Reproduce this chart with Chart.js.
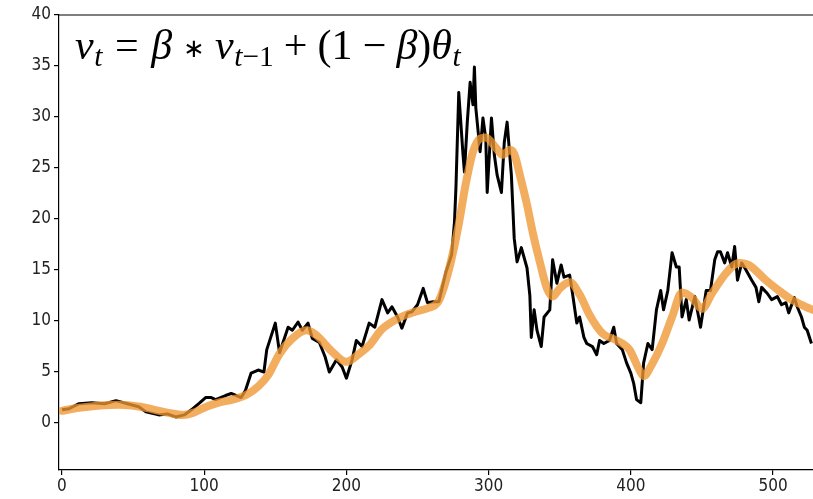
<!DOCTYPE html>
<html>
<head>
<meta charset="utf-8">
<script src="https://cdn.jsdelivr.net/npm/chart.js@4/dist/chart.umd.min.js"></script>
<style>
  html, body { margin: 0; padding: 0; background: #fff; }
  #wrap { position: relative; width: 813px; height: 499px; overflow: hidden; }
  #formula {
    position: absolute; left: 75px; top: 24px;
    font-family: 'Liberation Serif', 'Times New Roman', serif;
    font-size: 42px; line-height: 42px; color: #000; white-space: nowrap;
  }
  #formula i { font-style: italic; }
  #formula .s { font-size: 0.7em; position: relative; top: 0.24em; margin-left: 0.02em; }
  #formula .rel { margin: 0 0.3em; }
  #formula .bin { margin: 0 0.24em; }
  #formula .ast { font-size: 0.62em; margin: 0 0.4em; position: relative; top: -0.08em; }
</style>
</head>
<body>
<div id="wrap">
  <canvas id="c" width="813" height="499"></canvas>
  <div id="formula"><i>v</i><span class="s"><i>t</i></span><span class="rel">=</span><i>β</i><span class="ast">∗</span><i>v</i><span class="s"><i>t</i>−1</span><span class="bin">+</span>(1<span class="bin">−</span><i>β</i>)<i>θ</i><span class="s"><i>t</i></span></div>
</div>
<script>
// Raw series θ_t (black)
const rawX = [0,5,12,21,30,38,46,54,59,68,
  74,80,86,91,97,101,105,108,115,119,
  126,129,133,138,142,144,150,153,159,162,
  166,169,173,176,181,185,188,193,197,200,
  204,207,211,216,220,225,229,232,236,239,
  243,246,250,254,257,261,265,270,274,276,
  277,279,282,283,285,287,289,290,291,294,
  296,298,299,302,304,306,309,311,313,316,
  318,320,323,327,329,330,332,334,337,339,
  343,345,348,351,353,357,359,362,364,367,
  369,373,376,378,381,385,388,390,394,397,
  400,402,404,407,409,412,415,418,421,423,
  426,429,432,434,436,439,441,445,449,453,
  456,459,461,463,466,468,471,473,475,478,
  481,485,488,490,492,496,499,503,506,509,
  511,515,517,520,522,524,527];
const rawY = [1.3,1.4,1.9,2.0,1.9,2.2,1.9,1.6,1.1,0.8,
  0.9,0.6,0.8,1.3,2.0,2.5,2.5,2.3,2.7,2.9,
  2.5,3.2,4.9,5.2,5.0,7.2,9.8,6.9,9.4,9.1,
  9.9,9.1,9.8,8.3,7.9,6.5,5.0,6.2,5.5,4.4,
  6.2,8.1,7.5,9.8,9.4,12.1,10.8,11.4,10.4,9.3,
  10.8,10.9,11.6,13.2,11.8,11.9,11.9,14.8,16.5,19.7,
  23.0,32.4,26.3,24.6,29.5,33.4,31.2,34.9,30.9,26.6,
  29.9,27.9,22.6,29.9,26.3,24.3,22.6,27.5,29.5,24.3,
  18.1,15.8,17.2,15.2,12.5,8.4,11.1,9.1,7.5,10.4,
  11.1,16.0,13.7,15.5,14.3,14.5,12.7,9.8,10.4,8.4,
  7.8,7.5,6.7,8.1,7.8,8.1,9.4,7.8,7.2,5.9,
  4.9,3.9,2.3,2.0,5.9,7.8,7.2,11.1,13.0,11.1,
  13.0,16.7,15.3,15.3,10.4,12.1,10.1,12.4,9.4,13.0,
  13.0,16.0,16.8,16.8,15.7,16.7,15.3,17.3,14.0,15.7,
  15.0,14.0,13.3,11.9,13.3,12.7,12.1,12.4,11.6,11.8,
  10.8,12.3,11.4,10.4,9.4,9.1,7.8];

// Smoothed series v_t (orange)
const emaX = [0,12,25,40,55,65,75,85,92,100,
  110,120,130,138,145,153,162,172,179,190,
  200,209,216,225,237,248,258,265,272,279,
  284,289,294,298,305,310,315,318,322,327,
  331,336,341,345,350,357,364,371,380,390,
  399,406,409,415,422,429,436,443,450,457,
  467,476,483,495,504,513,523,528];
const emaY = [1.2,1.5,1.7,1.8,1.6,1.3,1.0,0.8,1.0,1.5,
  2.0,2.3,2.8,3.6,4.7,6.8,8.3,9.1,8.6,7.0,
  6.0,6.8,7.6,9.2,10.3,10.9,11.3,12.0,15.0,19.5,
  23.5,26.6,27.9,28.0,27.0,26.3,26.8,26.4,24.3,21.4,
  18.7,15.8,13.2,12.4,13.2,13.8,12.6,10.6,8.8,8.1,
  7.2,5.2,4.6,5.8,7.8,10.4,12.8,12.3,11.2,12.7,
  14.7,15.7,15.5,14.0,13.0,12.1,11.4,11.1];

// Axis ranges and tick labels
const xRange = [-2.1, 528.1];
const yRange = [-4.6, 40];
const xTicks = [0, 100, 200, 300, 400, 500];
const yTicks = [0, 5, 10, 15, 20, 25, 30, 35, 40];

const toPoints = (xs, ys) => xs.map((x, i) => ({ x: x, y: ys[i] }));

const tickFont = { family: "'DejaVu Sans Condensed', 'DejaVu Sans', sans-serif", size: 17 };

// top spine of the plot frame
const topFrame = {
  id: 'topFrame',
  afterDraw(chart) {
    const { ctx, chartArea } = chart;
    ctx.save();
    ctx.strokeStyle = '#000';
    ctx.lineWidth = 1.2;
    ctx.beginPath();
    ctx.moveTo(chartArea.left, chartArea.top);
    ctx.lineTo(chartArea.right, chartArea.top);
    ctx.stroke();
    ctx.restore();
  }
};

new Chart(document.getElementById('c'), {
  type: 'line',
  data: {
    datasets: [
      {
        label: 'v_t',
        data: toPoints(emaX, emaY),
        borderColor: 'rgba(238, 150, 50, 0.78)',
        borderWidth: 8,
        pointRadius: 0,
        cubicInterpolationMode: 'monotone',
        borderCapStyle: 'round',
        borderJoinStyle: 'round',
        fill: false,
        order: 0
      },
      {
        label: 'θ_t',
        data: toPoints(rawX, rawY),
        borderColor: '#000',
        borderWidth: 3,
        pointRadius: 0,
        tension: 0,
        borderJoinStyle: 'round',
        fill: false,
        order: 1
      }
    ]
  },
  options: {
    responsive: false,
    animation: false,
    devicePixelRatio: 1,
    layout: { padding: { top: 15, right: 0, left: 0, bottom: 0 } },
    plugins: { legend: { display: false }, tooltip: { enabled: false } },
    scales: {
      x: {
        type: 'linear',
        min: xRange[0],
        max: xRange[1],
        afterBuildTicks: (s) => { s.ticks = xTicks.map(v => ({ value: v })); },
        afterFit: (s) => { s.height = 29; },
        ticks: { font: tickFont, color: '#222', padding: 1, maxRotation: 0 },
        grid: { drawOnChartArea: false, drawTicks: true, tickLength: 5, color: '#000', lineWidth: 1.2 },
        border: { display: true, color: '#000', width: 1.2 }
      },
      y: {
        min: yRange[0],
        max: yRange[1],
        afterBuildTicks: (s) => { s.ticks = yTicks.map(v => ({ value: v })); },
        afterFit: (s) => { s.width = 59; },
        ticks: { font: tickFont, color: '#222', padding: 3 },
        grid: { drawOnChartArea: false, drawTicks: true, tickLength: 5, color: '#000', lineWidth: 1.2 },
        border: { display: true, color: '#000', width: 1.2 }
      }
    }
  },
  plugins: [topFrame]
});
</script>
</body>
</html>
